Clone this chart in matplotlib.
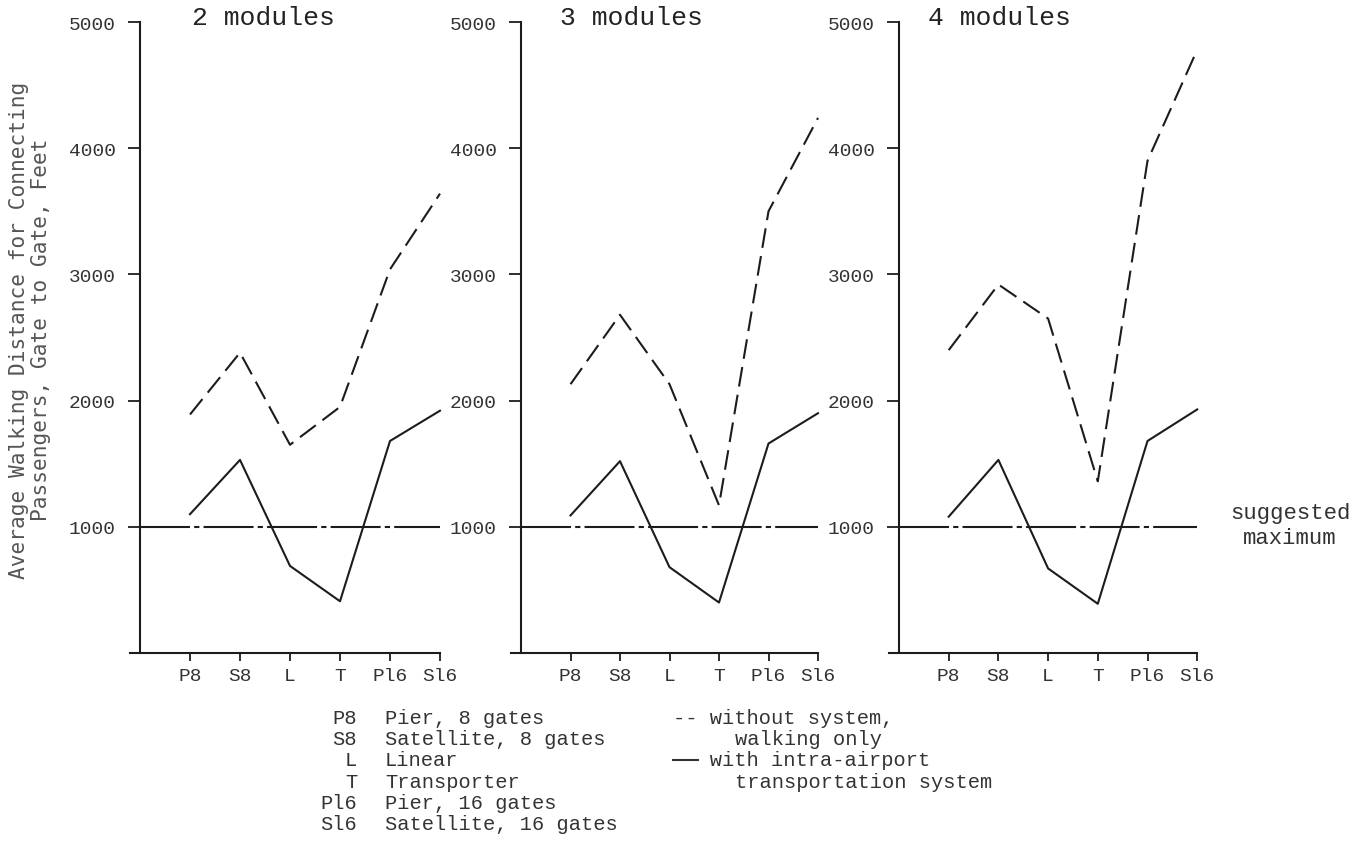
import matplotlib
matplotlib.use("Agg")
import matplotlib.pyplot as plt
from matplotlib.lines import Line2D

# layout categories
configs = ["P8", "S8", "L", "T", "P16", "S16"]
config_names = ["Pier, 8 gates", "Satellite, 8 gates", "Linear",
                "Transporter", "Pier, 16 gates", "Satellite, 16 gates"]
tick_labels = ["P8", "S8", "L", "T", "Pl6", "Sl6"]
key_labels = ["P8", "S8", "L", "T", "Pl6", "Sl6"]
panel_titles = ["2 modules", "3 modules", "4 modules"]

# walking distance (feet)
walk_only = [
    [1890, 2380, 1650, 1950, 3040, 3640],   # 2 modules
    [2130, 2680, 2130, 1170, 3500, 4240],   # 3 modules
    [2400, 2920, 2650, 1360, 3900, 4780],   # 4 modules
]
with_system = [
    [1100, 1530, 690, 410, 1680, 1920],
    [1090, 1520, 680, 400, 1660, 1900],
    [1080, 1530, 670, 390, 1680, 1930],
]
suggested_max = 1000
yticks = [1000, 2000, 3000, 4000, 5000]

W, H = 1364, 845
INK = "#1c1c1c"
MONO = ["Liberation Mono", "DejaVu Sans Mono"]

fig = plt.figure(figsize=(W / 100, H / 100), dpi=100)
fig.patch.set_facecolor("white")


def px_rect(x0, x1, ytop, ybot):
    return [x0 / W, 1 - ybot / H, (x1 - x0) / W, (ybot - ytop) / H]


# (origin px, unit px, title offset in data x)
panels = [(140, 50.0, 1.04), (521, 49.5, 0.79), (899, 49.7, 0.58)]
xs = list(range(1, len(configs) + 1))

for i, (org, unit, tx) in enumerate(panels):
    left = org - 0.2 * unit
    right = org + 6 * unit
    ax = fig.add_axes(px_rect(left, right, 23, 654))
    ax.set_xlim(-0.2, 6)
    ax.set_ylim(0, 5000)
    ax.patch.set_alpha(0)
    for s in ["top", "right"]:
        ax.spines[s].set_visible(False)
    ax.spines["left"].set_position(("data", 0))
    for s in ["left", "bottom"]:
        ax.spines[s].set_color(INK)
        ax.spines[s].set_linewidth(1.5)

    ax.set_yticks(yticks)
    ax.set_yticklabels([str(v) for v in yticks])
    ax.set_xticks(xs)
    ax.set_xticklabels(tick_labels)
    ax.tick_params(axis="y", direction="out", length=8.5, width=1.3,
                   color=INK, pad=9, labelsize=14, labelcolor="#333333")
    ax.tick_params(axis="x", direction="out", length=6, width=1.3,
                   color=INK, pad=4, labelsize=14, labelcolor="#333333")
    for lab in ax.get_xticklabels() + ax.get_yticklabels():
        lab.set_family(MONO)

    ax.plot(xs, walk_only[i], color=INK, lw=1.5, dashes=(9.5, 4),
            clip_on=False)
    ax.plot(xs, with_system[i], color=INK, lw=1.5, clip_on=False)
    ax.hlines(suggested_max, 0, 6, color=INK, lw=1.5,
              linestyles=[(0, (24, 2, 2.5, 2))], clip_on=False)

    ax.text(tx, 5040, panel_titles[i], fontsize=19, family=MONO,
            color="#222222", ha="left", va="center", clip_on=False)

# y axis label
fig.text(30 / W, 1 - 330 / H,
         "Average Walking Distance for Connecting\nPassengers, Gate to Gate, Feet",
         rotation=90, ha="center", va="center", multialignment="center",
         fontsize=15.2, family=["DejaVu Sans Mono"], color="#555555",
         linespacing=1.15)

# suggested maximum note
fig.text(1290 / W, 1 - 526 / H, "suggested\nmaximum", ha="center",
         va="center", fontsize=16, family=MONO, color="#333333",
         linespacing=1.3)

# configuration key
row0, step = 724, 21.2
for k, (key, name) in enumerate(zip(key_labels, config_names)):
    y = 1 - (row0 + k * step) / H
    fig.text(357 / W, y, key, ha="right", va="baseline", fontsize=14.7,
             family=MONO, color="#333333")
    fig.text(385 / W, y, name, ha="left", va="baseline", fontsize=14.7,
             family=MONO, color="#333333")

# line style key
style_rows = [(673, "-- without system,"), (735, "walking only"),
              (673, "   with intra-airport"), (735, "transportation system")]
for k, (x, txt) in enumerate(style_rows):
    fig.text(x / W, 1 - (row0 + k * step) / H, txt, ha="left",
             va="baseline", fontsize=14.7, family=MONO, color="#333333")
# solid sample in front of the second entry
ys = 1 - (row0 + 2 * step - 5) / H
fig.add_artist(Line2D([673 / W, 698 / W], [ys, ys], color="#333333", lw=1.5))

fig.savefig("out.png", dpi=100, facecolor="white")
